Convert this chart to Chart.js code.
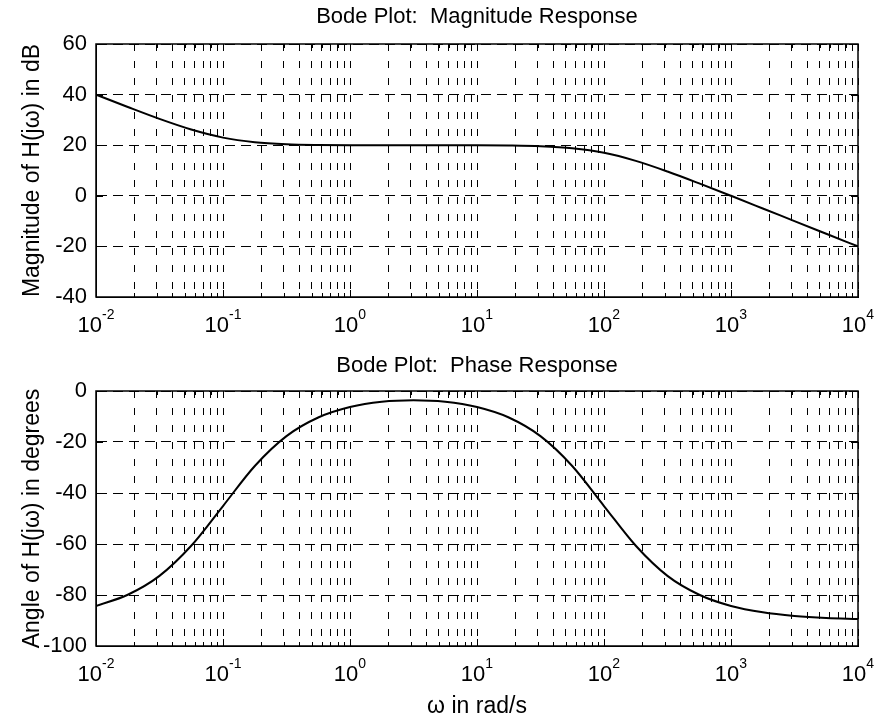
<!DOCTYPE html>
<html>
<head>
<meta charset="utf-8">
<script src="https://cdn.jsdelivr.net/npm/chart.js@4.4.1/dist/chart.umd.min.js"></script>
<style>
  html, body { margin: 0; padding: 0; background: #fff; }
  .page { position: relative; width: 874px; height: 721px; overflow: hidden; }
  canvas { position: absolute; left: 0; }
  #mag { top: 0; }
  #phase { top: 350px; }
</style>
</head>
<body>
<div class="page">
  <canvas id="mag" width="874" height="350"></canvas>
  <canvas id="phase" width="874" height="371"></canvas>
</div>
<script>
// frequencies (rad/s), quarter-decade steps
const freqs = [0.01, 0.0178, 0.0316, 0.0562, 0.1, 0.178, 0.316, 0.562, 1, 1.78, 3.16, 5.62,
  10, 17.8, 31.6, 56.2, 100, 178, 316, 562, 1000, 1780, 3160, 5620, 10000];
const magnitudeDb = [40.0, 35.1, 30.4, 26.2, 23.0, 21.2, 20.4, 20.1, 20.0, 20.0, 20.0, 20.0,
  20.0, 19.9, 19.6, 18.8, 17.0, 13.8, 9.6, 4.9, 0.0, -5.0, -10.0, -15.0, -20.0];
const phaseDeg = [-84.3, -79.9, -72.5, -60.7, -45.1, -29.4, -17.7, -10.4, -6.3, -4.2, -3.6, -4.2,
  -6.3, -10.4, -17.7, -29.4, -45.1, -60.7, -72.5, -79.9, -84.3, -86.8, -88.2, -89.0, -89.4];

// x ticks: decades get a 10^n label, minors 2..9 only grid
const decades = [-2, -1, 0, 1, 2, 3, 4];
const minorSteps = [2, 3, 4, 5, 6, 7, 8, 9];

const xTickValues = [];
decades.forEach((e, i) => {
  xTickValues.push(Math.pow(10, e));
  if (i < decades.length - 1) {
    minorSteps.forEach((m) => xTickValues.push(m * Math.pow(10, e)));
  }
});

const FONT = "'Liberation Sans', Arial, Helvetica, sans-serif";
Chart.defaults.font.family = FONT;
Chart.defaults.color = "#000";

const decadeOf = (v) => {
  const e = Math.round(Math.log10(v));
  return Math.abs(v - Math.pow(10, e)) < 1e-9 * v ? e : null;
};

// box round the axes, inward ticks, and 10^n labels with a raised exponent
const boxPlugin = {
  id: "box",
  afterDraw(chart) {
    const { ctx, chartArea: a, scales } = chart;
    ctx.save();
    ctx.strokeStyle = "#000";
    ctx.lineWidth = 1;
    ctx.beginPath();
    scales.x.ticks.forEach((t) => {
      const px = Math.round(scales.x.getPixelForValue(t.value)) + 0.5;
      const len = decadeOf(t.value) !== null ? 7 : 4;
      ctx.moveTo(px, a.bottom);
      ctx.lineTo(px, a.bottom - len);
      ctx.moveTo(px, a.top);
      ctx.lineTo(px, a.top + len);
    });
    scales.y.ticks.forEach((t) => {
      const py = Math.round(scales.y.getPixelForValue(t.value)) + 0.5;
      ctx.moveTo(a.left, py);
      ctx.lineTo(a.left + 7, py);
      ctx.moveTo(a.right, py);
      ctx.lineTo(a.right - 7, py);
    });
    ctx.stroke();
    ctx.lineWidth = 1.5;
    ctx.strokeRect(a.left, a.top, a.right - a.left, a.bottom - a.top);

    ctx.fillStyle = "#000";
    ctx.textBaseline = "alphabetic";
    ctx.textAlign = "left";
    scales.x.ticks.forEach((t) => {
      const e = decadeOf(t.value);
      if (e === null) return;
      const px = scales.x.getPixelForValue(t.value);
      ctx.font = "22px " + FONT;
      const wBase = ctx.measureText("10").width;
      ctx.font = "14px " + FONT;
      const wExp = ctx.measureText(String(e)).width;
      const x0 = px - (wBase + wExp) / 2;
      ctx.font = "22px " + FONT;
      ctx.fillText("10", x0, a.bottom + 35);
      ctx.font = "14px " + FONT;
      ctx.fillText(String(e), x0 + wBase, a.bottom + 22);
    });
    ctx.restore();
  },
};

const makeChart = (id, cfg) => {
  const ctx = document.getElementById(id).getContext("2d");
  return new Chart(ctx, {
    type: "line",
    data: {
      datasets: [
        {
          data: freqs.map((f, i) => ({ x: f, y: cfg.values[i] })),
          borderColor: "#000",
          borderWidth: 2,
          pointRadius: 0,
          cubicInterpolationMode: "monotone",
          fill: false,
        },
      ],
    },
    options: {
      responsive: false,
      animation: false,
      devicePixelRatio: 1,
      layout: { padding: { left: 0, right: 16, top: 0, bottom: 0 } },
      plugins: {
        legend: { display: false },
        tooltip: { enabled: false },
        title: {
          display: true,
          fullSize: false,
          text: cfg.title,
          font: { size: 22, weight: "normal" },
          padding: cfg.titlePadding,
        },
      },
      scales: {
        x: {
          type: "logarithmic",
          min: 0.01,
          max: 10000,
          afterBuildTicks: (scale) => {
            scale.ticks = xTickValues.map((v) => ({ value: v }));
          },
          afterFit: (scale) => {
            scale.height = cfg.xHeight;
          },
          ticks: { display: false, autoSkip: false, maxRotation: 0 },
          grid: { color: "#000", lineWidth: 1, drawTicks: false },
          border: { display: true, color: "#000", dash: [7, 10] },
          title: cfg.xTitle
            ? { display: true, text: cfg.xTitle, font: { size: 23 }, padding: { top: 0, bottom: 1 } }
            : { display: false },
        },
        y: {
          min: cfg.yMin,
          max: cfg.yMax,
          afterFit: (scale) => {
            scale.width = 96;
          },
          ticks: { stepSize: 20, padding: 9, font: { size: 22 } },
          grid: { color: "#000", lineWidth: 1, drawTicks: false },
          border: { display: true, color: "#000", dash: [10, 6] },
          title: { display: true, text: cfg.yTitle, font: { size: 23 }, padding: { top: 19, bottom: 0 } },
        },
      },
    },
    plugins: [boxPlugin],
  });
};

makeChart("mag", {
  title: "Bode Plot:  Magnitude Response",
  titlePadding: { top: 4, bottom: 13.6 },
  yTitle: "Magnitude of H(j\u03C9) in dB",
  values: magnitudeDb,
  yMin: -40,
  yMax: 60,
  xHeight: 53,
});

makeChart("phase", {
  title: "Bode Plot:  Phase Response",
  titlePadding: { top: 2.8, bottom: 11.8 },
  yTitle: "Angle of H(j\u03C9) in degrees",
  xTitle: "\u03C9 in rad/s",
  values: phaseDeg,
  yMin: -100,
  yMax: 0,
  xHeight: 75,
});
</script>
</body>
</html>
